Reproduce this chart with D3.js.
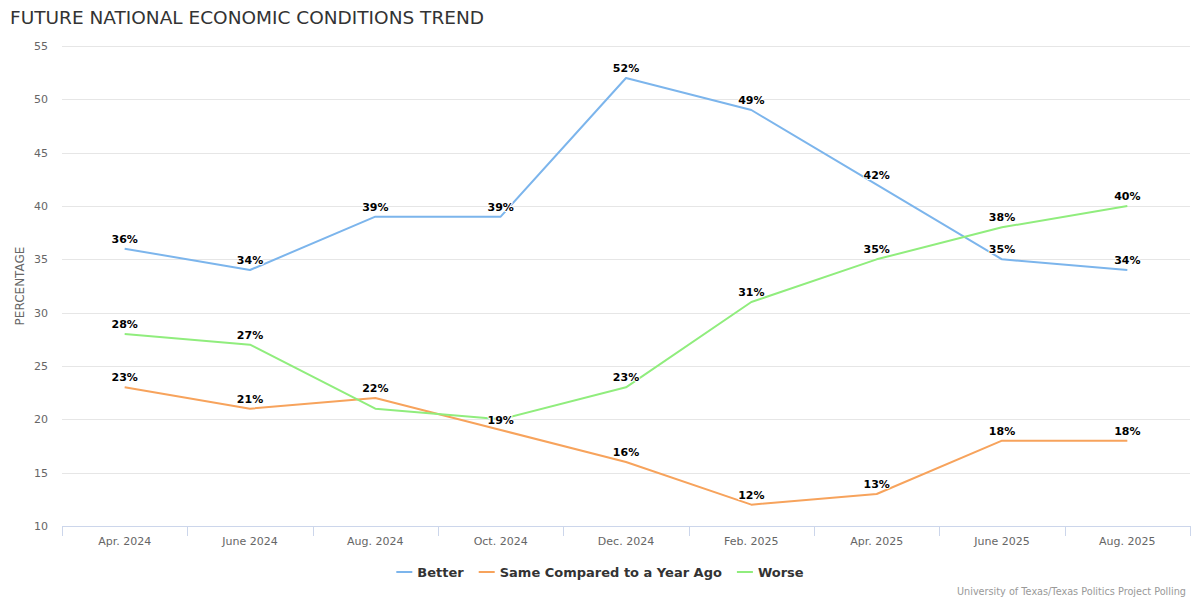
<!DOCTYPE html>
<html>
<head>
<meta charset="utf-8">
<script src="https://cdn.jsdelivr.net/npm/d3@7"></script>
<style>
  body { margin: 0; background: #fff; }
  svg { font-family: "DejaVu Sans", sans-serif; }
</style>
</head>
<body>
<svg id="chart" width="1200" height="600"></svg>
<script>
// data
var months = ["Apr. 2024", "June 2024", "Aug. 2024", "Oct. 2024", "Dec. 2024",
              "Feb. 2025", "Apr. 2025", "June 2025", "Aug. 2025"];
var better = [36, 34, 39, 39, 52, 49, 42, 35, 34];
var same   = [23, 21, 22, 19, 16, 12, 13, 18, 18];
var worse  = [28, 27, 21, 20, 23, 31, 35, 38, 40];
var seriesNames = ["Better", "Same Compared to a Year Ago", "Worse"];
var seriesColors = ["#7cb5ec", "#f7a35c", "#90ed7d"];
var yTicks = [10, 15, 20, 25, 30, 35, 40, 45, 50, 55];

var series = [better, same, worse].map(function (vals, i) {
    return { name: seriesNames[i], color: seriesColors[i], values: vals };
});

var svg = d3.select('#chart');
var plotLeft = 62, plotRight = 1190, plotTop = 46, plotBottom = 526;

var x = d3.scaleBand().domain(months).range([plotLeft, plotRight]);
var y = d3.scaleLinear().domain([10, 55]).range([plotBottom, plotTop]);

// title
svg.append('text')
    .attr('x', 10).attr('y', 24)
    .style('font-size', '18.5px').style('fill', '#333')
    .text('FUTURE NATIONAL ECONOMIC CONDITIONS TREND');

// grid
svg.append('g').selectAll('line')
    .data(yTicks.filter(function (d) { return d > 10; }))
    .join('line')
    .attr('x1', plotLeft).attr('x2', plotRight)
    .attr('y1', function (d) { return Math.round(y(d)) + 0.5; })
    .attr('y2', function (d) { return Math.round(y(d)) + 0.5; })
    .attr('stroke', '#e6e6e6').attr('stroke-width', 1);

// y labels
svg.append('g').selectAll('text')
    .data(yTicks)
    .join('text')
    .attr('x', 48).attr('y', function (d) { return y(d) + 4; })
    .attr('text-anchor', 'end')
    .style('font-size', '11px').style('fill', '#666')
    .text(function (d) { return d; });

svg.append('text')
    .attr('transform', 'translate(24,' + ((plotTop + plotBottom) / 2) + ') rotate(-90)')
    .attr('text-anchor', 'middle')
    .style('font-size', '12px').style('fill', '#666')
    .text('PERCENTAGE');

// x axis
var xAxis = svg.append('g');
xAxis.append('line')
    .attr('x1', plotLeft).attr('x2', plotRight)
    .attr('y1', plotBottom + 0.5).attr('y2', plotBottom + 0.5)
    .attr('stroke', '#ccd6eb');
var bounds = months.map(function (m) { return x(m); }).concat([plotRight]);
xAxis.selectAll('line.tick')
    .data(bounds)
    .join('line').attr('class', 'tick')
    .attr('x1', function (d) { return Math.round(d) + 0.5; })
    .attr('x2', function (d) { return Math.round(d) + 0.5; })
    .attr('y1', plotBottom).attr('y2', plotBottom + 10)
    .attr('stroke', '#ccd6eb');
xAxis.selectAll('text')
    .data(months)
    .join('text')
    .attr('x', function (d) { return x(d) + x.bandwidth() / 2; })
    .attr('y', plotBottom + 19)
    .attr('text-anchor', 'middle')
    .style('font-size', '11px').style('fill', '#666')
    .text(function (d) { return d; });

// lines
var line = d3.line()
    .x(function (d, i) { return x(months[i]) + x.bandwidth() / 2; })
    .y(function (d) { return y(d); });

svg.append('g').selectAll('path')
    .data(series)
    .join('path')
    .attr('d', function (s) { return line(s.values); })
    .attr('fill', 'none')
    .attr('stroke', function (s) { return s.color; })
    .attr('stroke-width', 2)
    .attr('stroke-linejoin', 'round');

// data labels, later series hidden where they collide
var placed = [];
var labels = svg.append('g');
series.forEach(function (s) {
    s.values.forEach(function (v, i) {
        var cx = x(months[i]) + x.bandwidth() / 2;
        var cy = y(v) - 10;
        var box = { x0: cx - 16, x1: cx + 16, y0: cy - 8, y1: cy + 8 };
        var hit = placed.some(function (b) {
            return box.x0 < b.x1 && box.x1 > b.x0 && box.y0 < b.y1 && box.y1 > b.y0;
        });
        if (hit) return;
        placed.push(box);
        labels.append('text')
            .attr('x', cx).attr('y', cy + 4)
            .attr('text-anchor', 'middle')
            .style('font-size', '11px').style('font-weight', 'bold')
            .style('fill', '#000')
            .style('stroke', '#fff').style('stroke-width', 2)
            .style('paint-order', 'stroke').style('stroke-linejoin', 'round')
            .text(v + '%');
    });
});

// legend
var legend = svg.append('g');
var items = legend.selectAll('g')
    .data(series)
    .join('g');
items.append('line')
    .attr('x1', 0).attr('x2', 16).attr('y1', 0).attr('y2', 0)
    .attr('stroke', function (s) { return s.color; }).attr('stroke-width', 2);
items.append('text')
    .attr('x', 21).attr('y', 5)
    .style('font-size', '13px').style('font-weight', 'bold').style('fill', '#333')
    .text(function (s) { return s.name; });
var offs = [], total = 0;
items.each(function () {
    var w = 21 + d3.select(this).select('text').node().getComputedTextLength();
    offs.push(total);
    total += w + 15;
});
total -= 15;
var lx = 600 - total / 2;
items.attr('transform', function (s, i) { return 'translate(' + (lx + offs[i]) + ',572)'; });

// credits
svg.append('text')
    .attr('x', 1186).attr('y', 595)
    .attr('text-anchor', 'end')
    .style('font-size', '9.7px').style('fill', '#999')
    .text('University of Texas/Texas Politics Project Polling');
</script>
</body>
</html>
